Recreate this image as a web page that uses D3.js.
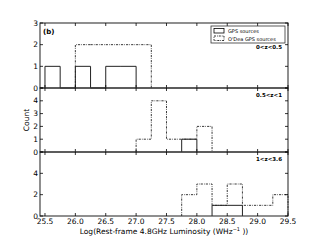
<!DOCTYPE html>
<html>
<head>
<meta charset="utf-8">
<script src="https://cdn.jsdelivr.net/npm/d3@7"></script>
<style>
  body { margin: 0; background: #fff; }
  svg { font-family: "DejaVu Sans", sans-serif; }
</style>
</head>
<body>
<script>
// bin left edges (width 0.25)
var bins = [25.5, 25.75, 26.0, 26.25, 26.5, 26.75, 27.0, 27.25, 27.5, 27.75, 28.0, 28.25, 28.5, 28.75, 29.0, 29.25];
var binWidth = 0.25;

// counts per bin, one array per redshift slice
var gpsLow   = [1, 0, 1, 0, 1, 1, 0, 0, 0, 0, 0, 0, 0, 0, 0, 0];
var odeaLow  = [0, 0, 2, 2, 2, 2, 2, 0, 0, 0, 0, 0, 0, 0, 0, 0];
var gpsMid   = [0, 0, 0, 0, 0, 0, 0, 0, 0, 1, 0, 0, 0, 0, 0, 0];
var odeaMid  = [0, 0, 0, 0, 0, 0, 1, 4, 1, 1, 2, 0, 0, 0, 0, 0];
var gpsHigh  = [0, 0, 0, 0, 0, 0, 0, 0, 0, 0, 0, 1, 1, 0, 0, 0];
var odeaHigh = [0, 0, 0, 0, 0, 0, 0, 0, 0, 2, 3, 1, 3, 1, 1, 2];

var xTicks = [25.5, 26.0, 26.5, 27.0, 27.5, 28.0, 28.5, 29.0, 29.5];
var panelLabels = ["0<z<0.5", "0.5<z<1", "1<z<3.6"];
var yMaxes = [3, 5, 6];
var yTickVals = [[0, 1, 2, 3], [0, 1, 2, 3, 4, 5], [0, 2, 4, 6]];
var yTickShown = [[0, 1, 2, 3], [0, 1, 2, 3, 4], [0, 2, 4]];

var panels = [
  {gps: gpsLow, odea: odeaLow},
  {gps: gpsMid, odea: odeaMid},
  {gps: gpsHigh, odea: odeaHigh}
];

var width = 320, height = 240;
var left = 40, right = 288;
var panelTops = [23, 88, 152];
var panelBottoms = [88, 152, 216];

var svg = d3.select("body").append("svg")
    .attr("width", width)
    .attr("height", height);

var x = d3.scaleLinear().domain([25.418, 29.5]).range([left, right]);

// step outline like matplotlib histtype='step'
function stepPath(counts, y) {
  var first = counts.findIndex(function(c) { return c > 0; });
  var last = counts.length - 1 - counts.slice().reverse().findIndex(function(c) { return c > 0; });
  var pts = [[x(bins[first]), y(0)]];
  for (var i = first; i <= last; i++) {
    pts.push([x(bins[i]), y(counts[i])]);
    pts.push([x(bins[i] + binWidth), y(counts[i])]);
  }
  pts.push([x(bins[last] + binWidth), y(0)]);
  return d3.line()(pts);
}

panels.forEach(function(p, k) {
  var y = d3.scaleLinear().domain([0, yMaxes[k]]).range([panelBottoms[k], panelTops[k]]);
  var g = svg.append("g");

  g.append("path")
      .attr("d", stepPath(p.odea, y))
      .attr("fill", "none")
      .attr("stroke", "#222")
      .attr("stroke-width", 0.9)
      .attr("stroke-dasharray", "2.2,1.1,0.7,1.1");

  g.append("path")
      .attr("d", stepPath(p.gps, y))
      .attr("fill", "none")
      .attr("stroke", "#222")
      .attr("stroke-width", 1);

  // frame
  g.append("rect")
      .attr("x", left)
      .attr("y", panelTops[k])
      .attr("width", right - left)
      .attr("height", panelBottoms[k] - panelTops[k])
      .attr("fill", "none")
      .attr("stroke", "#333")
      .attr("stroke-width", 1.1);

  // inward ticks on all four sides
  var tl = 3;
  xTicks.forEach(function(t) {
    g.append("line").attr("x1", x(t)).attr("x2", x(t))
      .attr("y1", panelBottoms[k]).attr("y2", panelBottoms[k] - tl)
      .attr("stroke", "#000").attr("stroke-width", 0.8);
    g.append("line").attr("x1", x(t)).attr("x2", x(t))
      .attr("y1", panelTops[k]).attr("y2", panelTops[k] + tl)
      .attr("stroke", "#000").attr("stroke-width", 0.8);
  });
  yTickVals[k].forEach(function(t) {
    g.append("line").attr("x1", left).attr("x2", left + tl)
      .attr("y1", y(t)).attr("y2", y(t))
      .attr("stroke", "#000").attr("stroke-width", 0.8);
    g.append("line").attr("x1", right).attr("x2", right - tl)
      .attr("y1", y(t)).attr("y2", y(t))
      .attr("stroke", "#000").attr("stroke-width", 0.8);
  });
  g.selectAll(".ylab")
      .data(yTickShown[k])
    .enter().append("text")
      .attr("x", left - 2)
      .attr("y", function(d) { return y(d); })
      .attr("dy", "0.35em")
      .attr("text-anchor", "end")
      .attr("font-size", 7.5)
      .text(function(d) { return d; });

  g.append("text")
      .attr("x", right - 6)
      .attr("y", panelTops[k] + (k == 0 ? 26 : 9))
      .attr("text-anchor", "end")
      .attr("font-size", 5.5)
      .attr("font-weight", "bold")
      .text(panelLabels[k]);
});

// x tick labels
svg.selectAll(".xlab")
    .data(xTicks)
  .enter().append("text")
    .attr("x", function(d) { return x(d); })
    .attr("y", 224)
    .attr("text-anchor", "middle")
    .attr("font-size", 7.5)
    .text(function(d) { return d.toFixed(1); });

// axis titles
var xt = svg.append("text")
    .attr("x", (left + right) / 2)
    .attr("y", 234)
    .attr("text-anchor", "middle")
    .attr("font-size", 7.5)
    .text("Log(Rest-frame 4.8GHz Luminosity (WHz");
xt.append("tspan").attr("font-size", 5).attr("dy", -3).text("\u22121");
xt.append("tspan").attr("dy", 3).text(" ))");

svg.append("text")
    .attr("transform", "translate(29,120) rotate(-90)")
    .attr("text-anchor", "middle")
    .attr("font-size", 7.5)
    .text("Count");

svg.append("text")
    .attr("x", 43)
    .attr("y", 34)
    .attr("font-size", 7)
    .attr("font-weight", "bold")
    .text("(b)");

// legend
var leg = svg.append("g");
leg.append("rect")
    .attr("x", 211).attr("y", 26).attr("width", 74).attr("height", 17)
    .attr("fill", "#fff").attr("stroke", "#333").attr("stroke-width", 0.8);
leg.append("rect")
    .attr("x", 214).attr("y", 28.5).attr("width", 10).attr("height", 4.5)
    .attr("fill", "none").attr("stroke", "#000").attr("stroke-width", 0.8);
leg.append("rect")
    .attr("x", 214).attr("y", 36).attr("width", 10).attr("height", 4.5)
    .attr("fill", "none").attr("stroke", "#000").attr("stroke-width", 0.8)
    .attr("stroke-dasharray", "2,1,0.8,1");
leg.append("text").attr("x", 228).attr("y", 33).attr("font-size", 5).text("GPS sources");
leg.append("text").attr("x", 228).attr("y", 40.5).attr("font-size", 5).text("O'Dea GPS sources");
</script>
</body>
</html>
